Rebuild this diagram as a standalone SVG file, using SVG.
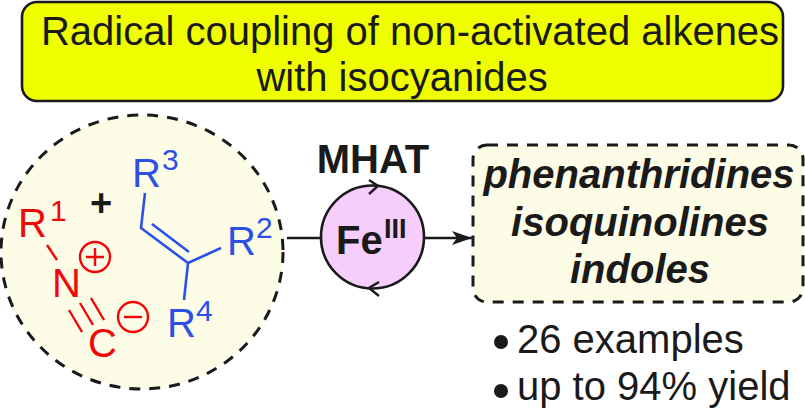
<svg xmlns="http://www.w3.org/2000/svg" width="805" height="408" viewBox="0 0 805 408">
<style>
text{font-family:"Liberation Sans",Arial,sans-serif;fill:#1a1a1a}
.t{font-size:40px;text-anchor:middle}
.p{font-size:40px;font-weight:bold;font-style:italic;text-anchor:middle}
.l{font-size:40px}
.r{fill:#f00808}.b{fill:#2a50e6}
.chem{font-size:40px}.sup{font-size:30px}
.dash{fill:#fdfce6;stroke:#1a1a1a;stroke-width:3;stroke-dasharray:11 9}
.ln{fill:none;stroke:#1a1a1a;stroke-width:2.4}
.rl{fill:none;stroke:#f00808;stroke-width:2.4}
.bl{fill:none;stroke:#2a50e6;stroke-width:2.6}
</style>
<defs><marker id="ah" markerUnits="userSpaceOnUse" markerWidth="22" markerHeight="14" refX="20" refY="7" orient="auto"><path d="M0 0L20 7L0 14L5 7Z" fill="#1a1a1a"/></marker></defs>
<g id="title"><rect x="22" y="2" width="761" height="99" rx="15" fill="#f0ff00" stroke="#1a1a1a" stroke-width="2.6"/>
<text class="t" x="410" y="45">Radical coupling of non-activated alkenes</text>
<text class="t" x="402" y="91">with isocyanides</text></g>
<g id="substrates"><ellipse class="dash" cx="142" cy="252" rx="141" ry="137"/>
<text class="chem r" x="18" y="237">R</text><text class="sup r" x="50" y="221">1</text>
<path class="rl" d="M47 245L57 260"/>
<text class="chem r" x="52" y="297">N</text>
<circle class="rl" cx="95" cy="257" r="15"/><path class="rl" d="M86 257H104M95 248V266"/>
<path class="rl" d="M69 310L82 332M80 303L93 325M91 298L104 320"/>
<text class="chem r" x="88" y="357">C</text>
<circle class="rl" cx="133" cy="317" r="15"/><path class="rl" d="M124 317H142"/>
<text x="101" y="216" text-anchor="middle" font-size="38" font-weight="bold">+</text>
<text class="chem b" x="132" y="187">R</text><text class="sup b" x="162" y="170">3</text>
<path class="bl" d="M145 193L141 228L188 263M152 224L189 252M188 263L221 248M188 263L184 300"/>
<text class="chem b" x="227" y="255">R</text><text class="sup b" x="256" y="238">2</text>
<text class="chem b" x="167" y="337">R</text><text class="sup b" x="196" y="321">4</text></g>
<g id="catalyst"><text x="373" y="173" text-anchor="middle" font-size="40" font-weight="bold">MHAT</text>
<circle cx="372.500" cy="237" r="51.500" fill="#f6cdfb" stroke="#1a1a1a" stroke-width="2.6"/>
<text x="336" y="254" font-size="40" font-weight="bold">Fe</text><text x="384" y="238" font-size="27" font-weight="bold">III</text></g>
<g id="connectors"><path class="ln" d="M287 238H321"/><path class="ln" marker-end="url(#ah)" d="M425 238H472"/>
<path class="ln" d="M369 180L378 186L369 194M379 282L369 288L379 296"/></g>
<g id="products"><rect class="dash" x="473" y="145" width="330" height="157" rx="14"/>
<text class="p" x="639" y="188">phenanthridines</text>
<text class="p" x="640" y="236">isoquinolines</text>
<text class="p" x="640" y="283">indoles</text></g>
<g id="notes"><circle cx="501" cy="342" r="7" fill="#1a1a1a"/><text class="l" x="517" y="353">26 examples</text>
<circle cx="501" cy="391" r="7" fill="#1a1a1a"/><text class="l" x="517" y="400">up to 94% yield</text></g>
</svg>
